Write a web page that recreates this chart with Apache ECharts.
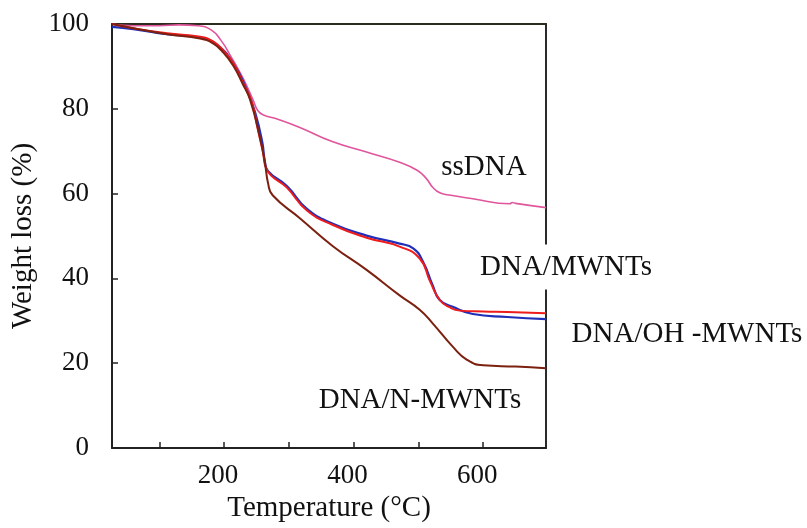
<!DOCTYPE html>
<html>
<head>
<meta charset="utf-8">
<script src="https://cdn.jsdelivr.net/npm/echarts@6/dist/echarts.min.js"></script>
<style>
  html, body { margin: 0; padding: 0; background: #fff; }
  #chart { width: 807px; height: 528px; }
</style>
</head>
<body>
<div id="chart"></div>
<script>
// TGA curves: temperature (°C) vs remaining weight (%)
const ssDNA = [
  [27, 100], [60, 99.6], [100, 99.6], [130, 99.8], [160, 99.6], [180, 98.6],
  [195, 96.2], [210, 92.5], [230, 87], [245, 82], [252, 79.6], [260, 78.6],
  [282, 77.6], [317, 75.6], [368, 72.2], [420, 69.8], [471, 67.4], [498, 65.5],
  [512, 63.6], [522, 61.5], [533, 60.2], [550, 59.6], [584, 58.8], [641, 57.6],
  [645, 57.9], [650, 57.7], [697, 56.7]
];
const dnaMWNTs = [
  [27, 100], [60, 99.0], [112, 97.8], [163, 97.0], [183, 95.9], [198, 93.9],
  [214, 90.8], [229, 86.2], [243, 81.5], [252, 75.2], [260, 69.8], [266, 65.6],
  [297, 61.4], [328, 56.0], [368, 52.6], [420, 49.6], [471, 47.5], [502, 44.7],
  [518, 39.3], [533, 34.9], [548, 33.2], [564, 32.4], [600, 32.2], [637, 32.1],
  [697, 31.8]
];
const dnaOHMWNTs = [
  [27, 99.3], [60, 98.8], [112, 97.6], [163, 96.8], [189, 95.1], [214, 90.8],
  [235, 84.5], [248, 79.1], [259, 72.1], [263, 67.6], [268, 65.3], [297, 61.8],
  [328, 56.4], [368, 52.9], [420, 50.1], [471, 48.2], [492, 47.1], [507, 44.0],
  [522, 38.4], [533, 34.9], [553, 33.3], [584, 31.6], [637, 30.9], [697, 30.4]
];
const dnaNMWNTs = [
  [27, 100], [60, 99.0], [112, 97.6], [163, 96.6], [183, 95.4], [198, 93.4],
  [214, 90.2], [229, 85.8], [240, 82.2], [255, 73.5], [263, 67.4], [268, 62.4],
  [275, 59.6], [317, 54.2], [368, 47.6], [420, 42.0], [471, 36.0], [502, 32.6],
  [522, 29.4], [553, 23.9], [575, 20.8], [600, 19.5], [650, 19.2], [697, 18.8]
];

const xTicks = [100, 200, 300, 400, 500, 600];
const xTickLabels = [200, 400, 600];

const seriesNames = ['ssDNA', 'DNA/MWNTs', 'DNA/OH -MWNTs', 'DNA/N-MWNTs'];

const serif = '"Liberation Serif", "DejaVu Serif", serif';

const chart = echarts.init(document.getElementById('chart'), null, { renderer: 'canvas' });

function curve(name, data, color, width, z) {
  return {
    name: name,
    type: 'line',
    data: data,
    xAxisIndex: 0,
    yAxisIndex: 0,
    showSymbol: false,
    smooth: 0.5,
    z: z,
    lineStyle: { color: color, width: width },
    emphasis: { disabled: true }
  };
}

chart.setOption({
  backgroundColor: '#ffffff',
  animation: false,
  grid: { left: 112, right: 261, top: 24, bottom: 77 },
  xAxis: [
    {
      type: 'value',
      min: 27,
      max: 697,
      position: 'bottom',
      name: 'Temperature (°C)',
      nameLocation: 'middle',
      nameGap: 46,
      nameTextStyle: { fontFamily: serif, fontSize: 29, color: '#111' },
      axisLine: { show: true, onZero: false, lineStyle: { color: '#222', width: 2 } },
      axisTick: { show: true, inside: true, length: 6, customValues: xTicks,
                  lineStyle: { color: '#222', width: 1.5 } },
      axisLabel: { customValues: xTickLabels, fontFamily: serif, fontSize: 27,
                   color: '#111', margin: 14, padding: [0, 12, 0, 0] },
      splitLine: { show: false }
    },
    {
      type: 'value',
      min: 27,
      max: 697,
      position: 'top',
      axisLine: { show: true, onZero: false, lineStyle: { color: '#2b2b1e', width: 2 } },
      axisTick: { show: false },
      axisLabel: { show: false },
      splitLine: { show: false }
    }
  ],
  yAxis: [
    {
      type: 'value',
      min: 0,
      max: 100,
      interval: 20,
      position: 'left',
      name: 'Weight loss (%)',
      nameLocation: 'middle',
      nameGap: 67,
      nameTextStyle: { fontFamily: serif, fontSize: 29, color: '#111' },
      axisLine: { show: true, onZero: false, lineStyle: { color: '#222', width: 2 } },
      axisTick: { show: true, inside: true, length: 6, lineStyle: { color: '#222', width: 1.5 } },
      axisLabel: { fontFamily: serif, fontSize: 27, color: '#111', margin: 23 },
      splitLine: { show: false }
    },
    {
      type: 'value',
      min: 0,
      max: 100,
      position: 'right',
      axisLine: { show: true, onZero: false, lineStyle: { color: '#2a2a2a', width: 2 } },
      axisTick: { show: false },
      axisLabel: { show: false },
      splitLine: { show: false }
    }
  ],
  series: [
    curve(seriesNames[0], ssDNA, '#e0559c', 1.6, 2),
    curve(seriesNames[2], dnaOHMWNTs, '#1f2fb8', 2.2, 3),
    curve(seriesNames[1], dnaMWNTs, '#ee1c1c', 2, 4),
    curve(seriesNames[3], dnaNMWNTs, '#7c2010', 2, 5)
  ],
  graphic: [
    { type: 'text', x: 484, y: 167, z: 50,
      style: { text: seriesNames[0], font: '29px ' + serif, fill: '#111',
               align: 'center', verticalAlign: 'middle' } },
    { type: 'text', x: 566, y: 267, z: 50,
      style: { text: seriesNames[1], font: '29px ' + serif, fill: '#111',
               align: 'center', verticalAlign: 'middle',
               backgroundColor: '#ffffff', padding: [8, 4, 8, 4] } },
    { type: 'text', x: 687, y: 334, z: 50,
      style: { text: seriesNames[2], font: '29px ' + serif, fill: '#111',
               align: 'center', verticalAlign: 'middle' } },
    { type: 'text', x: 420, y: 400, z: 50,
      style: { text: seriesNames[3], font: '29px ' + serif, fill: '#111',
               align: 'center', verticalAlign: 'middle' } }
  ]
});
</script>
</body>
</html>
